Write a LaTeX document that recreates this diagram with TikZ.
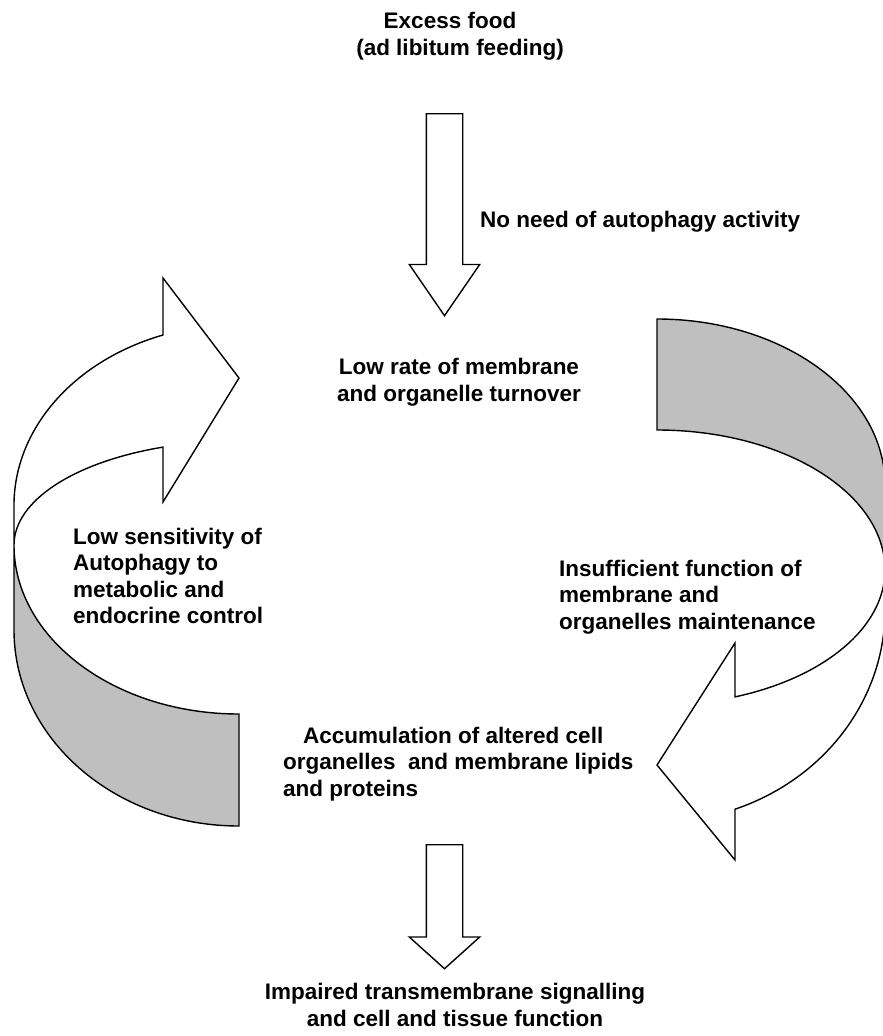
\documentclass[tikz,border=0pt]{standalone}
\usepackage{fontspec}
\setmainfont{Liberation Sans}
\usepackage{tikz}
\usetikzlibrary{shapes,arrows,positioning}

\begin{document}
\begin{tikzpicture}[x=1pt,y=-1pt]
	\tikzstyle{Label}	= [font=\fontsize{22.5}{26.5}\selectfont\bfseries, inner sep=0pt]
	\tikzstyle{Down}	= [single arrow, draw, fill=white, line width=1.4pt, rotate=-90, anchor=tail, inner xsep=0pt, inner ysep=17.5pt, single arrow head extend=17pt]
	\tikzstyle{Front}	= [draw, line width=1.4pt, fill=white]
	\tikzstyle{Back}	= [Front, fill=gray!50]

	\useasboundingbox (0,0) rectangle (883,1036);

	% left loop: back face, then front face with the head
	\draw [Back] (14,545) -- (14,630) arc [start angle=180, end angle=90, x radius=225, y radius=196]
		-- (239,714) arc [start angle=90, end angle=180, x radius=225, y radius=169] -- cycle;
	\draw [Front] (163,335) arc [start angle=250.26, end angle=180, x radius=225, y radius=181]
		-- (14,545) arc [start angle=180, end angle=250.26, x radius=225, y radius=104]
		-- (163,502) -- (239,378) -- (163,278) -- cycle;

	% right loop
	\draw [Back] (657,319) arc [start angle=270, end angle=360, x radius=228, y radius=166]
		-- (885,570) arc [start angle=0, end angle=-90, x radius=228, y radius=140] -- cycle;
	\draw [Front] (885,570) -- (885,610) arc [start angle=0, end angle=69.99, x radius=228, y radius=212]
		-- (735,860) -- (657,765) -- (735,643)
		-- (735,696.9) arc [start angle=69.99, end angle=0, x radius=228, y radius=135] -- cycle;

	\node (food) at (450,36) [Label][align=center] {Excess food\\\hspace*{20pt}(ad libitum feeding)};
	\node (noneed) at (480,222) [Label][anchor=west] {No need of autophagy activity};
	\node (lowrate) at (459,382) [Label][align=center] {Low rate of membrane\\and organelle turnover};
	\node (lowsens) at (73,576) [Label][anchor=west, align=left] {Low sensitivity of\\Autophagy to\\metabolic and\\endocrine control};
	\node (insuff) at (559,597) [Label][anchor=west, align=left] {Insufficient function of\\membrane and\\organelles maintenance};
	\node (accum) at (283,764) [Label][anchor=west, align=left] {\hspace*{20pt}Accumulation of altered cell\\organelles\ \ and membrane lipids\\and proteins};
	\node (impaired) at (455,1005) [Label][align=center] {Impaired transmembrane signalling\\and cell and tissue function};

	\node (foodlow) at (444.5,113) [Down][minimum height=202pt, single arrow tip angle=69] {};
	\node (accimp) at (444.5,844) [Down][minimum height=124pt, single arrow tip angle=96] {};
\end{tikzpicture}
\end{document}
